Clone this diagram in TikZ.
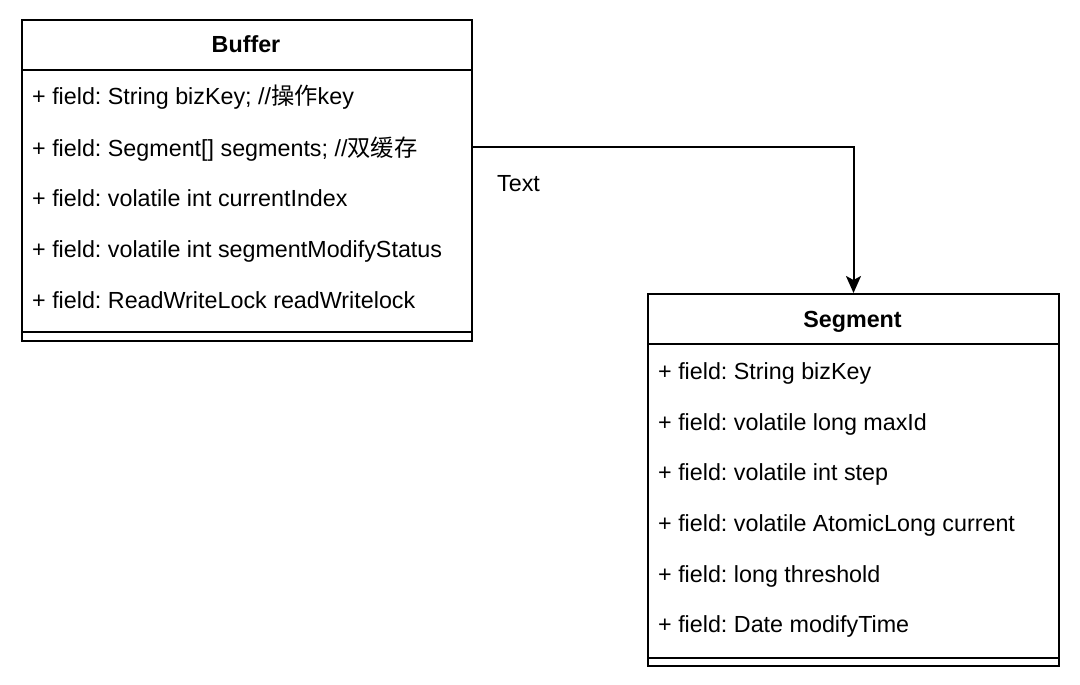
\documentclass[tikz,border=0pt]{standalone}
\usepackage{fontspec}
\setmainfont{Liberation Sans}
\newfontfamily\cjk{Noto Sans CJK SC}
\usetikzlibrary{arrows.meta}
\frenchspacing
\begin{document}
\begin{tikzpicture}[x=1pt,y=-1pt,
  classbox/.style={draw=black,line width=2pt,inner sep=0pt,anchor=north west},
  field/.style={anchor=base west,inner sep=0pt,font=\fontsize{23.3}{28}\selectfont},
  ctitle/.style={anchor=base,inner sep=0pt,font=\fontsize{23.3}{28}\selectfont\bfseries},
  sep/.style={line width=2pt},
  conn/.style={line width=2pt,-{Stealth[length=17pt,width=15pt,inset=4pt]}}]
\useasboundingbox (0,0) rectangle (1080,685);
% Buffer class
\node[classbox,minimum width=450pt,minimum height=321pt] (Buffer) at (21,19) {};
\draw[sep] (21,70) -- (471,70);
\draw[sep] (21,332) -- (471,332);
\node[ctitle] (bt) at (246,53) {Buffer};
\node[field] (b1) at (32,105) {+ field: String bizKey; //{\cjk 操作}key};
\node[field] (b2) at (32,156) {+ field: Segment[] segments; //{\cjk 双缓存}};
\node[field] (b3) at (32,206) {+ field: volatile int currentIndex};
\node[field] (b4) at (32,257) {+ field: volatile int segmentModifyStatus};
\node[field] (b5) at (32,308) {+ field: ReadWriteLock readWritelock};
% Segment class
\node[classbox,minimum width=411pt,minimum height=372pt] (Segment) at (647,293) {};
\draw[sep] (647,344) -- (1058,344);
\draw[sep] (647,658) -- (1058,658);
\node[ctitle] (st) at (852.5,327) {Segment};
\node[field] (s1) at (658,379) {+ field: String bizKey};
\node[field] (s2) at (658,430) {+ field: volatile long maxId};
\node[field] (s3) at (658,480) {+ field: volatile int step};
\node[field] (s4) at (658,531) {+ field: volatile AtomicLong current};
\node[field] (s5) at (658,582) {+ field: long threshold};
\node[field] (s6) at (658,632) {+ field: Date modifyTime};
% connector
\coordinate (src) at (471,147);
\draw[conn] (src) -| (Segment.north);
\node[field] (lbl) at (497,191) {Text};
\end{tikzpicture}
\end{document}
